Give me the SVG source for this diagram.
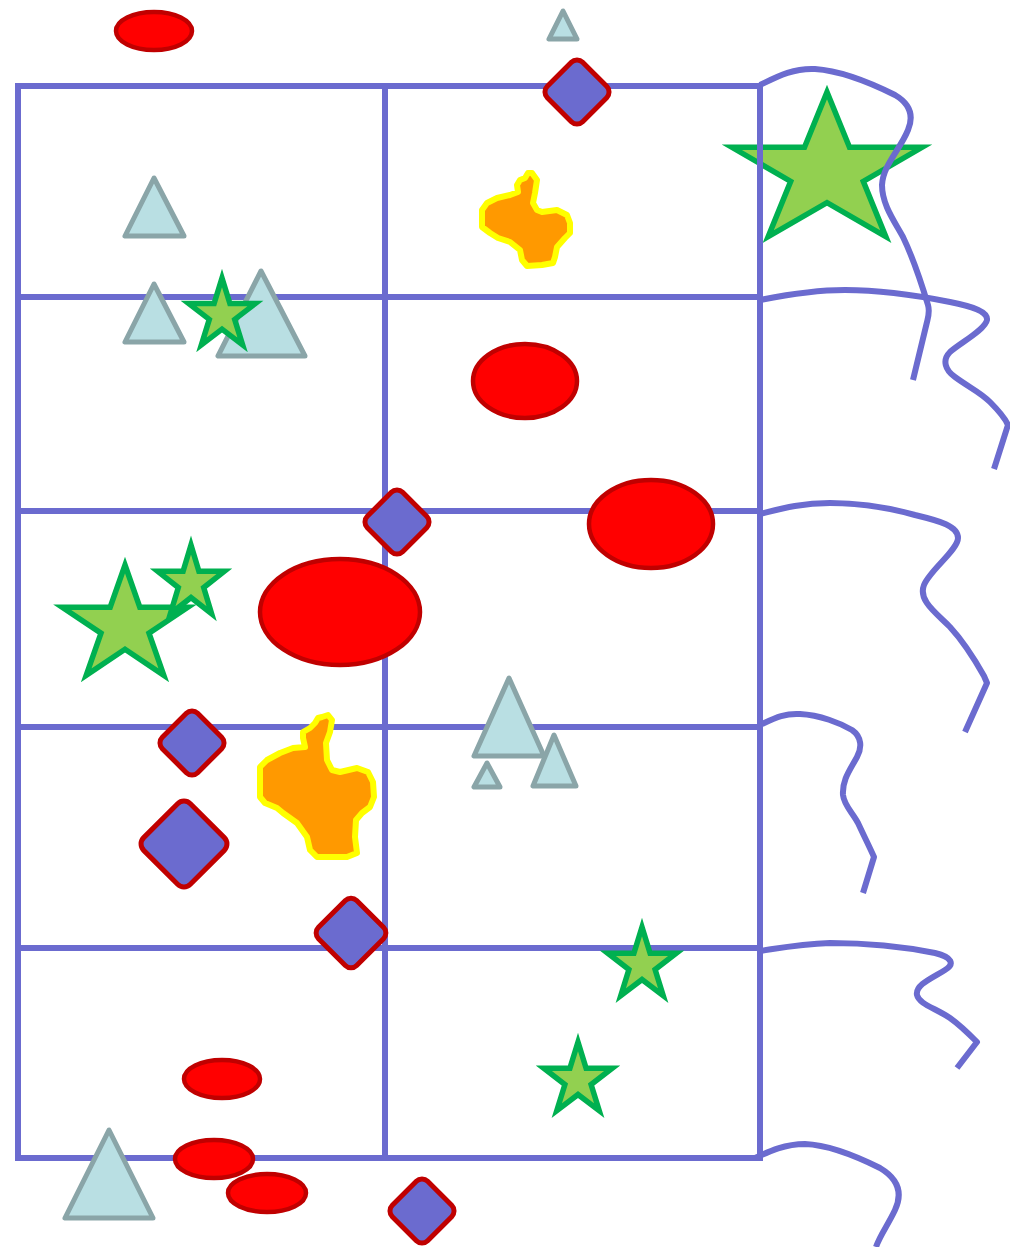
<svg xmlns="http://www.w3.org/2000/svg" width="1010" height="1247" viewBox="0 0 1010 1247">
<style>
.grid{fill:none;stroke:#6b6bcf;stroke-width:6}
.wave{fill:none;stroke:#6b6bcf;stroke-width:6;stroke-linejoin:round}
.star{fill:#92d050;stroke:#00b050;stroke-width:5.5}
.tri{fill:#b9dfe3;stroke:#8aa5a8;stroke-width:5;stroke-linejoin:round}
.ell{fill:#ff0000;stroke:#c00000;stroke-width:4.5}
.dia{fill:#6b6bcf;stroke:#c00000;stroke-width:5}
.blob{fill:#ff9900;stroke:#ffff00;stroke-width:6;stroke-linejoin:round}
</style>
<rect width="1010" height="1247" fill="#ffffff"/>
<g id="star-big-top">
<polygon class="star" points="827,92 849.5,147.3 922.1,147.3 863.3,181.4 885.8,236.7 827,202.6 768.2,236.7 790.7,181.4 731.9,147.3 804.5,147.3"/>
</g>
<g id="grid">
<path class="grid" d="M18,86 H760 V1158 H18 Z M385,86 V1158 M18,297 H760 M18,511 H760 M18,727 H760 M18,948 H760"/>
</g>
<g id="connectors">
<path class="wave" d="M760,85 C780,75 795,68 815,69 C845,71 875,85 895,95 C912,105 913,118 908,130 C900,150 883,165 882,185 C882,205 895,222 903,237 C915,262 922,285 928,305 C930,312 928,318 927,322 L913,380"/>
<path class="wave" d="M760,300 C790,294 815,290 845,290 C880,290 920,296 950,302 C975,307 988,312 987,320 C985,330 960,343 950,352 C942,360 945,370 955,377 C970,388 980,392 990,402 C998,410 1005,418 1008,425 L994,469"/>
<path class="wave" d="M760,514 C780,509 800,503 830,503 C860,503 890,508 915,515 C940,521 958,526 958,538 C958,550 930,570 924,585 C918,600 935,612 950,627 C962,640 975,660 984,676 L987,683 L965,732"/>
<path class="wave" d="M762,724 C775,718 785,713 800,714 C820,715 840,723 852,730 C862,737 862,748 857,757 C850,770 842,780 843,795 C844,805 852,812 858,823 C865,838 870,848 874,857 L863,893"/>
<path class="wave" d="M760,951 C780,948 800,944 830,943 C870,943 910,948 935,953 C952,957 955,964 945,970 C932,978 915,985 917,995 C919,1004 935,1008 950,1018 C960,1025 970,1035 977,1042 L957,1068"/>
<path class="wave" d="M755,1158 C770,1151 785,1144 805,1144 C830,1145 860,1158 880,1168 C900,1180 902,1195 895,1210 C888,1225 880,1235 876,1247"/>
</g>
<g id="tri-top"><polygon class="tri" points="563,11 549,39 577,39"/></g>
<g id="tri-r1"><polygon class="tri" points="154,178 125,236 184,236"/></g>
<g id="tri-r2a"><polygon class="tri" points="154,284 125,342 184,342"/></g>
<g id="tri-r2b"><polygon class="tri" points="261,271 218,356 305,356"/></g>
<g id="star-r2">
<polygon class="star" points="222,278 229.9,303.6 255.3,303.6 234.7,319.4 242.6,344.9 222,329.1 201.4,344.9 209.3,319.4 188.7,303.6 214.1,303.6"/>
</g>
<g id="tri-mid-big"><polygon class="tri" points="509,678 474,756 544,756"/></g>
<g id="tri-mid-small"><polygon class="tri" points="487,763 474,787 500,787"/></g>
<g id="tri-mid-right"><polygon class="tri" points="554,735 533,786 576,786"/></g>
<g id="tri-bottom"><polygon class="tri" points="109,1130 65,1218 153,1218"/></g>
<g id="star-r3-big">
<polygon class="star" points="125,565 139.8,607.2 187.8,607.2 149,633.2 163.8,675.3 125,649.3 86.2,675.3 101,633.2 62.2,607.2 110.2,607.2"/>
</g>
<g id="star-r3-small">
<polygon class="star" points="191,545 198.9,571.3 224.3,571.3 203.7,587.5 211.6,613.7 191,597.5 170.4,613.7 178.3,587.5 157.7,571.3 183.1,571.3"/>
</g>
<g id="star-r5">
<polygon class="star" points="642,927 650.1,953.3 676.2,953.3 655.1,969.5 663.2,995.7 642,979.5 620.8,995.7 628.9,969.5 607.8,953.3 633.9,953.3"/>
</g>
<g id="star-r6">
<polygon class="star" points="578,1042 586.1,1068.3 612.2,1068.3 591.1,1084.5 599.2,1110.7 578,1094.5 556.8,1110.7 564.9,1084.5 543.8,1068.3 569.9,1068.3"/>
</g>
<g id="ell-top"><ellipse class="ell" cx="154" cy="31" rx="38" ry="19"/></g>
<g id="ell-r2"><ellipse class="ell" cx="525" cy="381" rx="52" ry="37"/></g>
<g id="ell-r3a"><ellipse class="ell" cx="651" cy="524" rx="62" ry="44"/></g>
<g id="ell-r3b"><ellipse class="ell" cx="340" cy="612" rx="80" ry="53"/></g>
<g id="ell-b1"><ellipse class="ell" cx="222" cy="1079" rx="38" ry="19"/></g>
<g id="ell-b2"><ellipse class="ell" cx="214" cy="1159" rx="39" ry="19"/></g>
<g id="ell-b3"><ellipse class="ell" cx="267" cy="1193" rx="39" ry="19"/></g>
<g id="dia-top"><rect class="dia" x="-25" y="-25" width="50" height="50" rx="8" transform="translate(577,92) rotate(45)"/></g>
<g id="dia-r3"><rect class="dia" x="-25" y="-25" width="50" height="50" rx="8" transform="translate(397,522) rotate(45)"/></g>
<g id="dia-r4a"><rect class="dia" x="-25" y="-25" width="50" height="50" rx="8" transform="translate(192,743) rotate(45)"/></g>
<g id="dia-r4b"><rect class="dia" x="-33" y="-33" width="66" height="66" rx="9" transform="translate(184,844) rotate(45)"/></g>
<g id="dia-r4c"><rect class="dia" x="-27" y="-27" width="54" height="54" rx="8" transform="translate(351,933) rotate(45)"/></g>
<g id="dia-bottom"><rect class="dia" x="-25" y="-25" width="50" height="50" rx="8" transform="translate(422,1211) rotate(45)"/></g>
<g id="blob-top">
<path class="blob" d="M532,173 L537,180 L535,193 L533,203 L537,210 L542,212 L557,210 L567,215 L570,223 L570,233 L565,238 L557,247 L555,257 L553,263 L542,265 L527,266 L522,260 L520,250 L510,242 L498,238 L490,233 L482,227 L482,210 L487,203 L497,198 L510,195 L518,192 L517,185 L520,180 L525,178 L528,173 Z"/>
</g>
<g id="blob-mid">
<path class="blob" d="M322,717 L328,715 L332,720 L330,732 L326,743 L327,760 L332,770 L340,772 L357,768 L368,772 L373,782 L374,797 L370,807 L362,813 L356,820 L355,837 L357,853 L347,857 L332,857 L317,857 L310,850 L307,837 L297,823 L283,813 L277,808 L265,803 L260,797 L260,767 L267,760 L280,753 L293,748 L305,747 L303,738 L303,732 L310,728 L315,723 L318,718 Z"/>
</g>
</svg>
